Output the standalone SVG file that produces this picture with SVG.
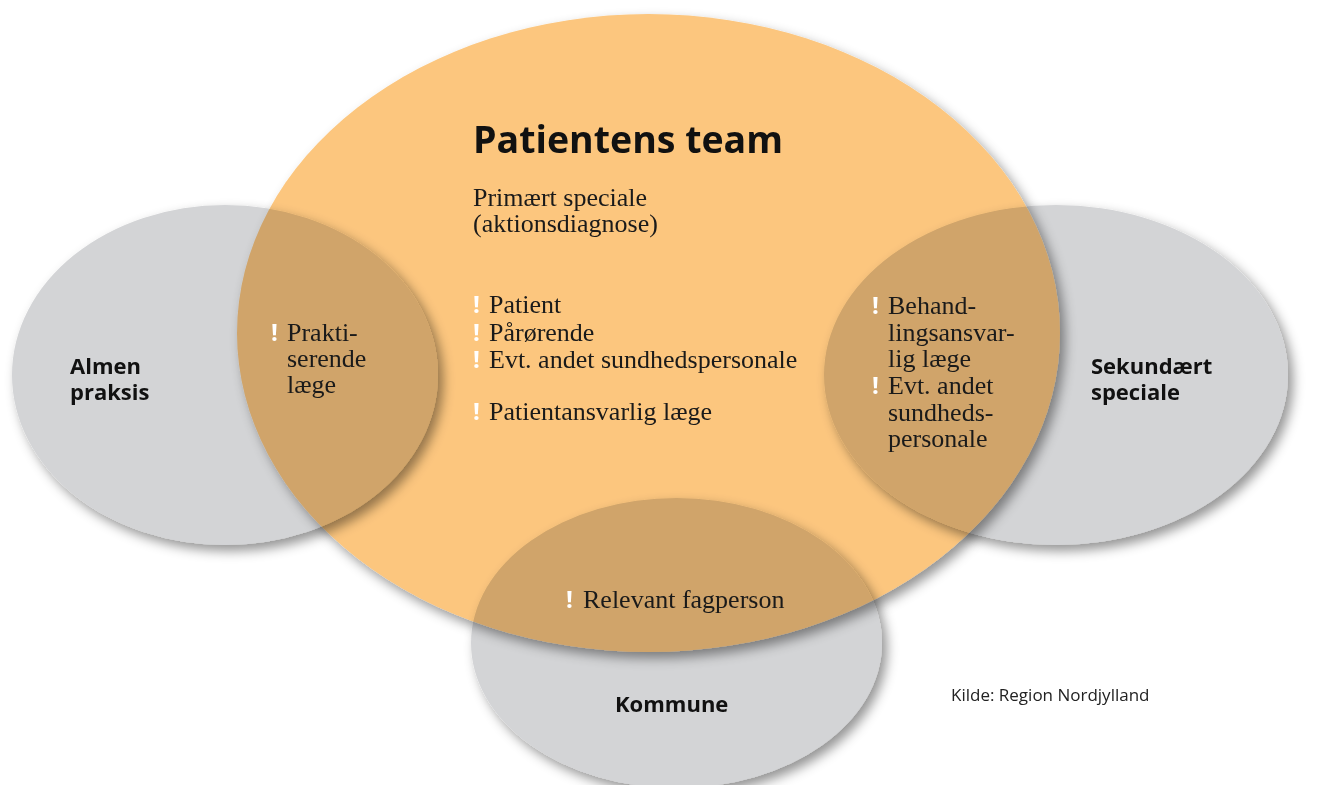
<svg xmlns="http://www.w3.org/2000/svg" width="1320" height="785" viewBox="0 0 1320 785">
<defs>
<filter id="sh" x="-10%" y="-10%" width="125%" height="125%">
<feDropShadow dx="5" dy="6" stdDeviation="6" flood-color="#000" flood-opacity="0.42"/>
</filter>
<style>
.grey{fill:#D3D4D6;mix-blend-mode:multiply;filter:url(#sh)}
.orange{fill:#FCC67E;mix-blend-mode:multiply;filter:url(#sh)}
.t{font-family:"Liberation Serif","Times New Roman",serif;font-size:26px;fill:#1a1a1a}
.ex{font-family:"Open Sans","DejaVu Sans",sans-serif;font-weight:700;font-size:24px;fill:#ffffff}
.lbl{font-family:"Open Sans","DejaVu Sans",sans-serif;font-weight:700;font-size:22px;fill:#111}
.title{font-family:"Open Sans","DejaVu Sans",sans-serif;font-weight:700;font-size:37.5px;fill:#111}
.src{font-family:"Open Sans","DejaVu Sans",sans-serif;font-size:17px;fill:#222}
</style>
</defs>
<rect width="1320" height="785" fill="#ffffff"/>
<g id="shapes">
<ellipse id="shape-sekundaert" class="grey" cx="1056" cy="375" rx="232" ry="170"/>
<ellipse id="shape-kommune" class="grey" cx="676.5" cy="643" rx="205.5" ry="145"/>
<ellipse id="shape-team" class="orange" cx="648.5" cy="333" rx="411.5" ry="319"/>
<ellipse id="shape-almen" class="grey" cx="225" cy="375" rx="213" ry="170"/>
</g>
<g id="connectors"></g>
<g id="node-team">
<text class="title" x="473" y="153">Patientens team</text>
<text class="t"><tspan x="473" y="206">Primært speciale</tspan><tspan x="473" y="232">(aktionsdiagnose)</tspan></text>
<text class="ex"><tspan x="473" y="313">!</tspan><tspan x="473" y="341">!</tspan><tspan x="473" y="368">!</tspan><tspan x="473" y="420">!</tspan></text>
<text class="t"><tspan x="489" y="313">Patient</tspan><tspan x="489" y="341">Pårørende</tspan><tspan x="489" y="368">Evt. andet sundhedspersonale</tspan><tspan x="489" y="420">Patientansvarlig læge</tspan></text>
</g>
<g id="node-almen">
<text class="lbl"><tspan x="70" y="374">Almen</tspan><tspan x="70" y="400">praksis</tspan></text>
<text class="ex" x="271" y="341">!</text>
<text class="t"><tspan x="287" y="341">Prakti-</tspan><tspan x="287" y="367">serende</tspan><tspan x="287" y="393">læge</tspan></text>
</g>
<g id="node-sekundaert">
<text class="lbl"><tspan x="1091" y="374">Sekundært</tspan><tspan x="1091" y="400">speciale</tspan></text>
<text class="ex"><tspan x="872" y="314">!</tspan><tspan x="872" y="394">!</tspan></text>
<text class="t"><tspan x="888" y="314">Behand-</tspan><tspan x="888" y="341">lingsansvar-</tspan><tspan x="888" y="367">lig læge</tspan><tspan x="888" y="394">Evt. andet</tspan><tspan x="888" y="421">sundheds-</tspan><tspan x="888" y="447">personale</tspan></text>
</g>
<g id="node-kommune">
<text class="lbl" x="615" y="712">Kommune</text>
<text class="ex" x="566" y="608">!</text>
<text class="t" x="583" y="608">Relevant fagperson</text>
</g>
<g id="source">
<text class="src" x="951" y="701">Kilde: Region Nordjylland</text>
</g>
</svg>
